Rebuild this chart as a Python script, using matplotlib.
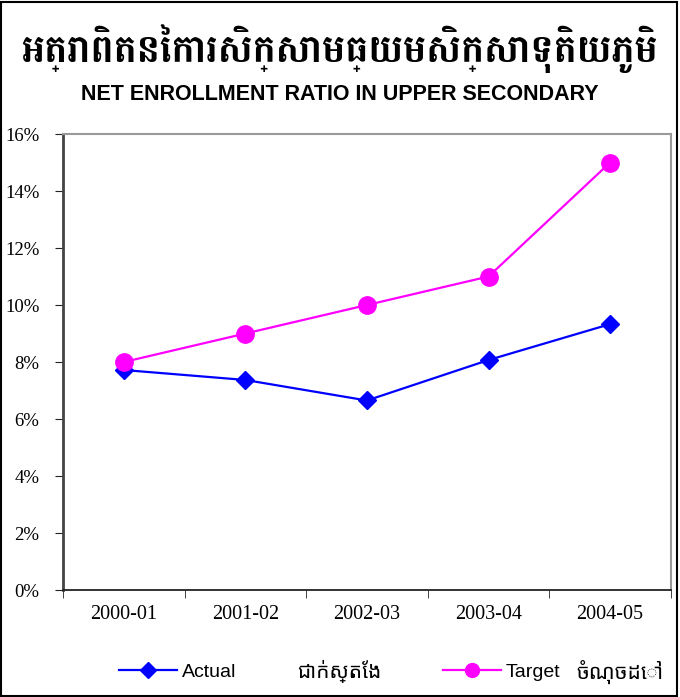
import matplotlib
matplotlib.use('Agg')
import matplotlib.pyplot as plt
from matplotlib.patches import Rectangle
from matplotlib.ticker import FuncFormatter

# data
years = ['2000-01', '2001-02', '2002-03', '2003-04', '2004-05']
actual = [7.72, 7.37, 6.65, 8.07, 9.33]
target = [8.0, 9.0, 10.0, 11.0, 15.0]
yticks = [0, 2, 4, 6, 8, 10, 12, 14, 16]

title_km = 'អត្រាពិតនៃការសិក្សាមធ្យមសិក្សាទុតិយភូមិ'
title_en = 'NET ENROLLMENT RATIO IN UPPER SECONDARY'
lab_actual = ['Actual', 'ជាក់ស្តែង']
lab_target = ['Target', 'ចំណុចដៅ']

blue = '#0000ff'
pink = '#ff00ff'

fig = plt.figure(figsize=(6.8, 6.97), dpi=100)
ax = fig.add_axes([0.0926, 0.1535, 0.894, 0.6542])

x = list(range(len(years)))
ax.plot(x, actual, color=blue, lw=1.6, marker='D', ms=9.5)
ax.plot(x, target, color=pink, lw=1.6, marker='o', ms=12.5)

ax.set_xlim(-0.5, 4.5)
ax.set_ylim(0, 16)
ax.set_yticks(yticks)
ax.yaxis.set_major_formatter(FuncFormatter(lambda v, p: '%d%%' % v))
ax.set_xticks(x)
ax.set_xticklabels(years)
ax.set_xticks([i - 0.5 for i in range(len(years) + 1)], minor=True)
ax.tick_params(axis='x', which='major', length=0, pad=11)
ax.tick_params(axis='x', which='minor', length=6, direction='out', color='#222222')
ax.tick_params(axis='y', length=6, direction='out', color='#222222', pad=11)
for lab in ax.get_xticklabels():
    lab.set_fontfamily('Liberation Serif')
    lab.set_fontsize(14.5)
for lab in ax.get_yticklabels():
    lab.set_fontfamily('Liberation Serif')
    lab.set_fontsize(13.5)

ax.spines['left'].set_color('#444444')
ax.spines['left'].set_linewidth(2)
ax.spines['bottom'].set_color('#222222')
ax.spines['bottom'].set_linewidth(1.3)
ax.spines['top'].set_color('#999999')
ax.spines['top'].set_linewidth(1.5)
ax.spines['right'].set_color('#999999')
ax.spines['right'].set_linewidth(1.5)

fig.text(0.5, 0.931, title_km, ha='center', va='center', fontsize=28,
         family=['Battambang', 'Noto Sans Khmer'], fontweight='bold')
fig.text(0.5, 0.865, title_en, ha='center', va='center', fontsize=15.5,
         family='Liberation Sans', fontweight='bold')

# legend, one entry at a time so the Khmer words can sit beside them
h1, = ax.plot([], [], color=blue, lw=1.6, marker='D', ms=8)
h2, = ax.plot([], [], color=pink, lw=1.6, marker='o', ms=10)
for h, lab, x0 in [(h1, lab_actual[0], 0.175), (h2, lab_target[0], 0.651)]:
    leg = fig.legend([h], [lab], loc='center left', bbox_to_anchor=(x0, 0.036),
                     frameon=False, borderpad=0, borderaxespad=0,
                     handlelength=3.0, handletextpad=0.25,
                     prop={'family': 'Liberation Sans', 'size': 14})
fig.text(0.437, 0.036, lab_actual[1], ha='left', va='center', fontsize=15,
         family='Noto Sans Khmer')
fig.text(0.847, 0.036, lab_target[1], ha='left', va='center', fontsize=15,
         family='Noto Sans Khmer')

fig.patches.append(Rectangle((0.002, 0.002), 0.993, 0.995, transform=fig.transFigure,
                             fill=False, edgecolor='black', lw=1.5))

fig.savefig('out.png', dpi=100)
